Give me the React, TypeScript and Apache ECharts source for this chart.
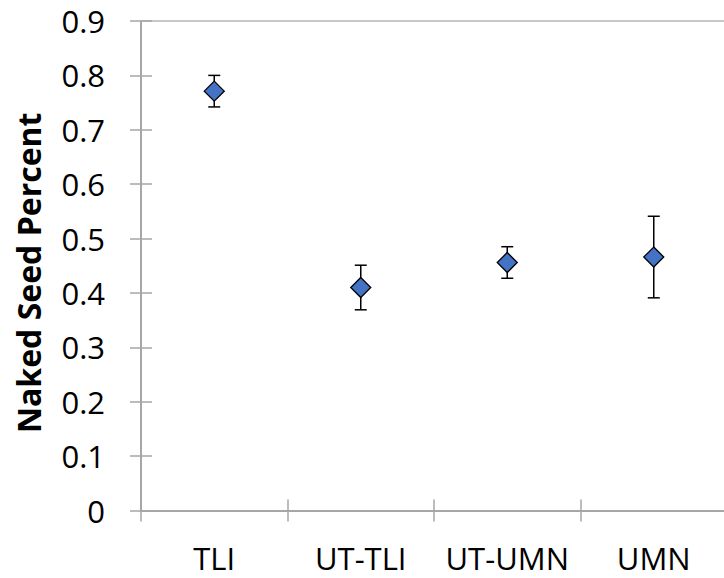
import React, { useEffect, useRef } from "react";
import * as echarts from "echarts";

// Group labels along the x axis
const categories = ["TLI", "UT-TLI", "UT-UMN", "UMN"];
// Mean naked-seed fraction per group
const means = [0.771, 0.41, 0.456, 0.466];
// Half-length of each error bar
const errors = [0.029, 0.041, 0.029, 0.075];
// y axis range and step
const yMin = 0;
const yMax = 0.9;
const yStep = 0.1;

const FONT = "'Open Sans', 'Noto Sans', sans-serif";
const AXIS_GRAY = "#a6a6a6";
// the plot runs slightly past the right edge of the visible frame
const GRID = { left: 141, right: 3, top: 21, bottom: 67.5, containLabel: false };

export default function App() {
  const ref = useRef<HTMLDivElement>(null);

  useEffect(() => {
    if (!ref.current) return;
    const chart = echarts.init(ref.current, undefined, { renderer: "svg" });

    const errorData = categories.map((_, i) => [i, means[i] - errors[i], means[i] + errors[i]]);
    const pointData = categories.map((c, i) => [c, means[i]]);

    const yBase = {
      type: "value" as const,
      min: yMin,
      max: yMax,
      interval: yStep,
      position: "left" as const,
      splitLine: { show: false },
    };
    const tickStyle = { color: AXIS_GRAY, width: 1.5 };

    chart.setOption({
      animation: false,
      backgroundColor: "#ffffff",
      // grid 0 carries the data and outer ticks; grid 1 overlays it with the inner half of the cross ticks
      grid: [GRID, GRID],
      xAxis: [
        {
          gridIndex: 0,
          type: "category",
          data: categories,
          position: "bottom",
          boundaryGap: true,
          axisLine: { show: true, lineStyle: { color: AXIS_GRAY, width: 2 } },
          axisTick: { show: true, length: 11, interval: 0, lineStyle: tickStyle },
          axisLabel: {
            interval: 0,
            margin: 32,
            fontSize: 31,
            lineHeight: 30,
            color: "#000",
            fontFamily: FONT,
          },
          splitLine: { show: false },
        },
        {
          gridIndex: 0,
          type: "category",
          data: categories,
          position: "top",
          axisLine: { show: true, lineStyle: { color: "#c8c8c8", width: 2 } },
          axisTick: { show: false },
          axisLabel: { show: false },
          splitLine: { show: false },
        },
        {
          gridIndex: 1,
          type: "category",
          data: categories,
          position: "bottom",
          boundaryGap: true,
          axisLine: { show: false },
          axisTick: { show: true, inside: true, length: 11, interval: 0, lineStyle: tickStyle },
          axisLabel: { show: false },
          splitLine: { show: false },
        },
      ],
      yAxis: [
        {
          ...yBase,
          gridIndex: 0,
          name: "Naked Seed Percent",
          nameLocation: "middle",
          nameGap: 97,
          nameTextStyle: {
            fontSize: 32,
            fontWeight: "bold",
            color: "#000",
            fontFamily: FONT,
            padding: [0, 14, 0, 0],
          },
          axisLine: { show: true, lineStyle: { color: AXIS_GRAY, width: 2 } },
          axisTick: { show: true, length: 11, lineStyle: tickStyle },
          axisLabel: {
            margin: 36,
            fontSize: 31,
            color: "#000",
            fontFamily: FONT,
            formatter: (v: number) => (v === 0 ? "0" : String(Math.round(v * 10) / 10)),
          },
        },
        {
          ...yBase,
          gridIndex: 1,
          axisLine: { show: false },
          axisTick: { show: true, inside: true, length: 11, lineStyle: tickStyle },
          axisLabel: { show: false },
        },
      ],
      series: [
        {
          type: "custom",
          xAxisIndex: 0,
          yAxisIndex: 0,
          data: errorData,
          z: 2,
          renderItem: (_params: any, api: any) => {
            const x = api.value(0);
            const lo = api.coord([x, api.value(1)]);
            const hi = api.coord([x, api.value(2)]);
            const cap = 6;
            const style = { stroke: "#000", lineWidth: 1.5 };
            return {
              type: "group",
              children: [
                { type: "line", shape: { x1: lo[0], y1: lo[1], x2: hi[0], y2: hi[1] }, style },
                { type: "line", shape: { x1: hi[0] - cap, y1: hi[1], x2: hi[0] + cap, y2: hi[1] }, style },
                { type: "line", shape: { x1: lo[0] - cap, y1: lo[1], x2: lo[0] + cap, y2: lo[1] }, style },
              ],
            };
          },
        },
        {
          type: "scatter",
          xAxisIndex: 0,
          yAxisIndex: 0,
          data: pointData,
          symbol: "diamond",
          symbolSize: 20,
          z: 3,
          itemStyle: { color: "#4472c4", borderColor: "#000", borderWidth: 1.3, opacity: 1 },
        },
      ],
    });

    return () => chart.dispose();
  }, []);

  return (
    <div
      style={{
        position: "fixed",
        left: 0,
        top: 0,
        width: 724,
        height: 578,
        overflow: "hidden",
        background: "#fff",
      }}
    >
      <div ref={ref} style={{ width: 730, height: 578 }} />
    </div>
  );
}
